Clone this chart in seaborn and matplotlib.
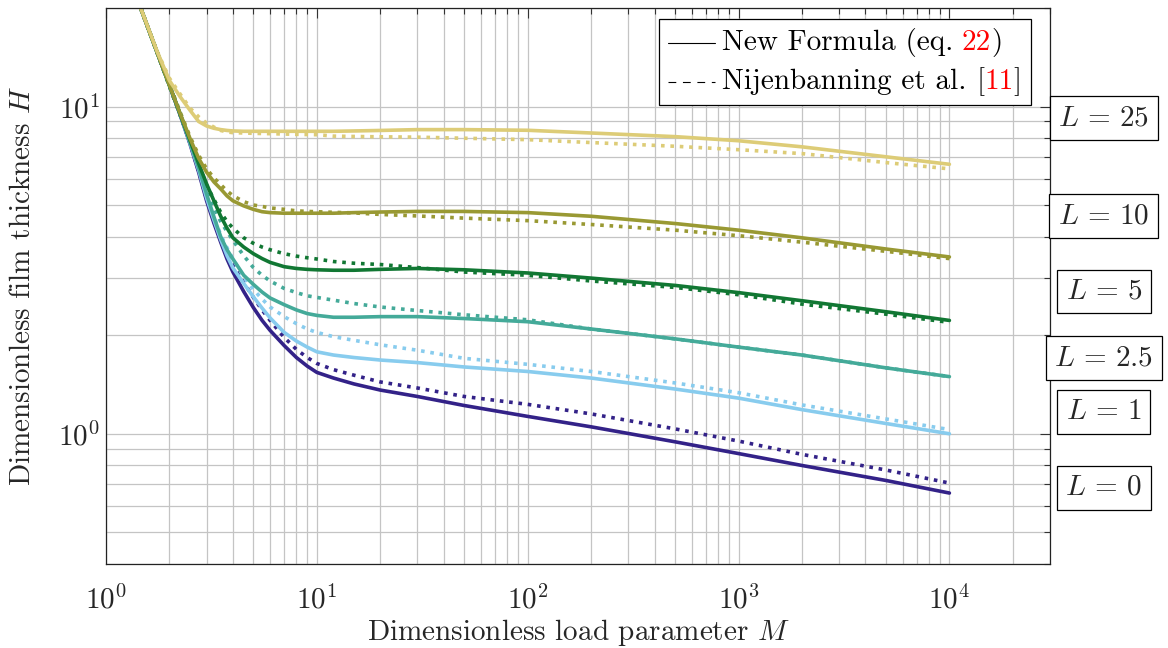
import matplotlib
matplotlib.use("Agg")
import matplotlib.pyplot as plt
import matplotlib.transforms as mtransforms
import pandas as pd
import seaborn as sns
from matplotlib.lines import Line2D
from matplotlib.offsetbox import AnchoredOffsetbox, DrawingArea, HPacker, VPacker, TextArea
from matplotlib.ticker import LogLocator, NullFormatter

# Dimensionless load parameter M (shared sampling for every curve)
m_values = [1.4, 1.75, 2, 2.25, 2.5, 2.75, 3, 3.25, 3.5, 3.75, 4, 4.5, 5, 5.5, 6,
            7, 8, 9, 10, 12, 15, 20, 30, 50, 100, 200, 500, 1000, 2000, 5000, 10000]

# Film thickness H from the new formula (eq. 22)
h_new_L0 = [21.5, 14.6, 11.6, 9.4, 7.7, 6.3, 5.15, 4.4, 3.85, 3.42, 3.12, 2.72, 2.43,
            2.22, 2.07, 1.86, 1.71, 1.61, 1.54, 1.48, 1.42, 1.36, 1.30, 1.22, 1.13,
            1.05, 0.945, 0.87, 0.80, 0.72, 0.659]
h_new_L1 = [21.5, 14.6, 11.6, 9.45, 7.75, 6.4, 5.25, 4.5, 3.92, 3.5, 3.21, 2.88, 2.62,
            2.42, 2.26, 2.04, 1.92, 1.84, 1.78, 1.74, 1.71, 1.68, 1.65, 1.60, 1.55,
            1.48, 1.37, 1.285, 1.185, 1.075, 1.0]
h_new_L2_5 = [21.5, 14.6, 11.6, 9.45, 7.8, 6.5, 5.4, 4.6, 4.0, 3.65, 3.42, 3.05, 2.86,
              2.71, 2.60, 2.48, 2.39, 2.33, 2.30, 2.27, 2.27, 2.28, 2.28, 2.25, 2.20,
              2.09, 1.95, 1.84, 1.74, 1.59, 1.495]
h_new_L5 = [21.5, 14.6, 11.6, 9.45, 7.9, 6.7, 5.8, 5.15, 4.62, 4.25, 3.97, 3.72, 3.55,
            3.43, 3.34, 3.24, 3.20, 3.18, 3.17, 3.16, 3.16, 3.18, 3.20, 3.17, 3.10,
            2.99, 2.84, 2.70, 2.55, 2.36, 2.22]
h_new_L10 = [21.5, 14.6, 11.6, 9.5, 8.0, 6.95, 6.3, 5.88, 5.6, 5.33, 5.15, 4.97, 4.85,
             4.77, 4.74, 4.72, 4.72, 4.72, 4.72, 4.72, 4.74, 4.76, 4.78, 4.78, 4.74,
             4.62, 4.39, 4.19, 3.97, 3.67, 3.47]
h_new_L25 = [21.5, 14.7, 12.0, 10.7, 9.75, 9.0, 8.72, 8.58, 8.5, 8.45, 8.42, 8.40, 8.40,
             8.40, 8.40, 8.40, 8.40, 8.40, 8.40, 8.40, 8.42, 8.45, 8.50, 8.50, 8.46,
             8.30, 8.09, 7.86, 7.53, 7.02, 6.66]

# Film thickness H from Nijenbanning et al. [11]
h_nij_L0 = [21.5, 14.6, 11.6, 9.45, 7.75, 6.35, 5.22, 4.5, 3.95, 3.55, 3.28, 2.90, 2.61,
            2.39, 2.22, 1.97, 1.81, 1.71, 1.64, 1.57, 1.51, 1.44, 1.38, 1.30, 1.23,
            1.15, 1.035, 0.95, 0.865, 0.775, 0.707]
h_nij_L1 = [21.5, 14.6, 11.6, 9.45, 7.8, 6.45, 5.35, 4.6, 4.05, 3.7, 3.42, 3.02, 2.76,
            2.58, 2.44, 2.28, 2.17, 2.09, 2.04, 1.98, 1.93, 1.87, 1.80, 1.70, 1.63,
            1.55, 1.43, 1.335, 1.225, 1.11, 1.03]
h_nij_L2_5 = [21.5, 14.6, 11.6, 9.45, 7.85, 6.6, 5.5, 4.9, 4.45, 4.15, 3.9, 3.5, 3.22,
              3.05, 2.93, 2.78, 2.70, 2.64, 2.61, 2.56, 2.50, 2.44, 2.38, 2.31, 2.23,
              2.09, 1.95, 1.84, 1.74, 1.59, 1.495]
h_nij_L5 = [21.5, 14.6, 11.5, 9.4, 7.85, 6.65, 5.75, 5.2, 4.75, 4.45, 4.25, 3.97, 3.82,
            3.72, 3.65, 3.55, 3.49, 3.45, 3.42, 3.36, 3.32, 3.29, 3.22, 3.12, 3.05,
            2.93, 2.80, 2.66, 2.49, 2.32, 2.19]
h_nij_L10 = [21.5, 14.6, 11.7, 9.6, 8.1, 7.1, 6.45, 6.05, 5.77, 5.52, 5.34, 5.12, 5.00,
             4.95, 4.90, 4.85, 4.80, 4.78, 4.77, 4.75, 4.73, 4.68, 4.63, 4.56, 4.48,
             4.36, 4.19, 4.03, 3.85, 3.61, 3.43]
h_nij_L25 = [21.5, 14.7, 12.2, 10.9, 9.9, 9.3, 8.9, 8.65, 8.45, 8.36, 8.32, 8.30, 8.28,
             8.27, 8.26, 8.24, 8.22, 8.21, 8.20, 8.12, 8.10, 8.08, 8.06, 8.00, 7.92,
             7.76, 7.56, 7.38, 7.18, 6.74, 6.45]

l_labels = ["0", "1", "2.5", "5", "10", "25"]
l_colors = ["#332288", "#88CCEE", "#44AA99", "#117733", "#999933", "#DDCC77"]

new_curves = [h_new_L0, h_new_L1, h_new_L2_5, h_new_L5, h_new_L10, h_new_L25]
nij_curves = [h_nij_L0, h_nij_L1, h_nij_L2_5, h_nij_L5, h_nij_L10, h_nij_L25]

rows = []
for source, curves in (("new", new_curves), ("nij", nij_curves)):
    for lab, hs in zip(l_labels, curves):
        for m, h in zip(m_values, hs):
            rows.append({"M": m, "H": h, "L": lab, "source": source})
df = pd.DataFrame(rows)
palette = dict(zip(l_labels, l_colors))

sns.set_theme(style="white")
FS = 21
plt.rcParams.update({
    "font.family": "serif",
    "font.serif": ["cmr10"],
    "mathtext.fontset": "cm",
    "axes.formatter.use_mathtext": True,
    "axes.unicode_minus": False,
    "axes.edgecolor": "#222222",
    "axes.linewidth": 0.9,
})

fig = plt.figure(figsize=(11.68, 6.48), dpi=100)
ax = fig.add_axes([106 / 1168, 84 / 648, 944 / 1168, 556 / 648])
ax.set_xscale("log")
ax.set_yscale("log")

# reference curves (dotted) first, new formula (solid) on top
sns.lineplot(data=df[df["source"] == "nij"], x="M", y="H", hue="L",
             hue_order=l_labels, palette=palette, estimator=None, sort=False,
             linewidth=2.6, linestyle=(0, (1, 1.6)), legend=False, ax=ax)
sns.lineplot(data=df[df["source"] == "new"], x="M", y="H", hue="L",
             hue_order=l_labels, palette=palette, estimator=None, sort=False,
             linewidth=2.6, legend=False, ax=ax)

ax.set_xlim(1, 3e4)
ax.set_ylim(0.4, 20)
ax.xaxis.set_major_locator(LogLocator(base=10, numticks=10))
ax.xaxis.set_minor_locator(LogLocator(base=10, subs=range(2, 10), numticks=20))
ax.yaxis.set_major_locator(LogLocator(base=10, numticks=10))
ax.yaxis.set_minor_locator(LogLocator(base=10, subs=range(2, 10), numticks=20))
ax.xaxis.set_minor_formatter(NullFormatter())
ax.yaxis.set_minor_formatter(NullFormatter())

ax.grid(True, which="both", color="#c4c4c4", linewidth=0.9)
ax.set_axisbelow(True)
ax.tick_params(which="both", direction="in", top=True, right=True,
               color="#333333", width=0.8)
ax.tick_params(which="major", length=7)
ax.tick_params(which="minor", length=4.5)
ax.tick_params(axis="x", which="major", pad=15, labelsize=FS)
ax.tick_params(axis="y", which="major", pad=4.5, labelsize=FS)
for s in ax.spines.values():
    s.set_visible(True)

ax.set_xlabel("Dimensionless load parameter $M$", fontsize=FS, labelpad=2)
ax.set_ylabel("Dimensionless film thickness $H$", fontsize=FS)
ax.yaxis.set_label_coords(-0.074, 0.5)

# boxed L labels to the right of the axes
label_y = [0.684, 1.163, 1.705, 2.72, 4.62, 9.22]
trans = mtransforms.blended_transform_factory(ax.transAxes, ax.transData)
for lab, yv in zip(l_labels, label_y):
    ax.text(1.057, yv, rf"$L\,=\,{lab}$", transform=trans, ha="center", va="center",
            fontsize=FS, clip_on=False,
            bbox=dict(boxstyle="square,pad=0.3", fc="white", ec="black", lw=0.9))

# legend with coloured cross-reference numbers
def text_box(s, color="black"):
    return TextArea(s, textprops=dict(color=color, fontsize=FS, family="serif"))

def handle(ls):
    da = DrawingArea(34, 12, 0, 0)
    da.add_artist(Line2D([0, 34], [6, 6], color="black", lw=0.8, linestyle=ls))
    return da

row1 = HPacker(children=[
    handle("-"),
    HPacker(children=[
        text_box("New Formula (eq."),
        HPacker(children=[text_box("22", "red"), text_box(")")], sep=0, pad=0,
                align="baseline"),
    ], sep=6, pad=0, align="baseline"),
], sep=5, pad=0, align="center")
row2 = HPacker(children=[
    handle((0, (7, 6))),
    HPacker(children=[
        text_box("Nijenbanning et al."),
        HPacker(children=[text_box("["), text_box("11", "red"), text_box("]")],
                sep=0, pad=0, align="baseline"),
    ], sep=7, pad=0, align="baseline"),
], sep=5, pad=0, align="center")

leg = AnchoredOffsetbox(loc="upper right",
                        child=VPacker(children=[row1, row2], sep=7, pad=0, align="left"),
                        pad=0.32, borderpad=0, frameon=True, prop=dict(size=FS),
                        bbox_to_anchor=(0.980, 0.980), bbox_transform=ax.transAxes)
leg.patch.set_edgecolor("black")
leg.patch.set_linewidth(0.9)
ax.add_artist(leg)

fig.savefig("out.png", dpi=100)
